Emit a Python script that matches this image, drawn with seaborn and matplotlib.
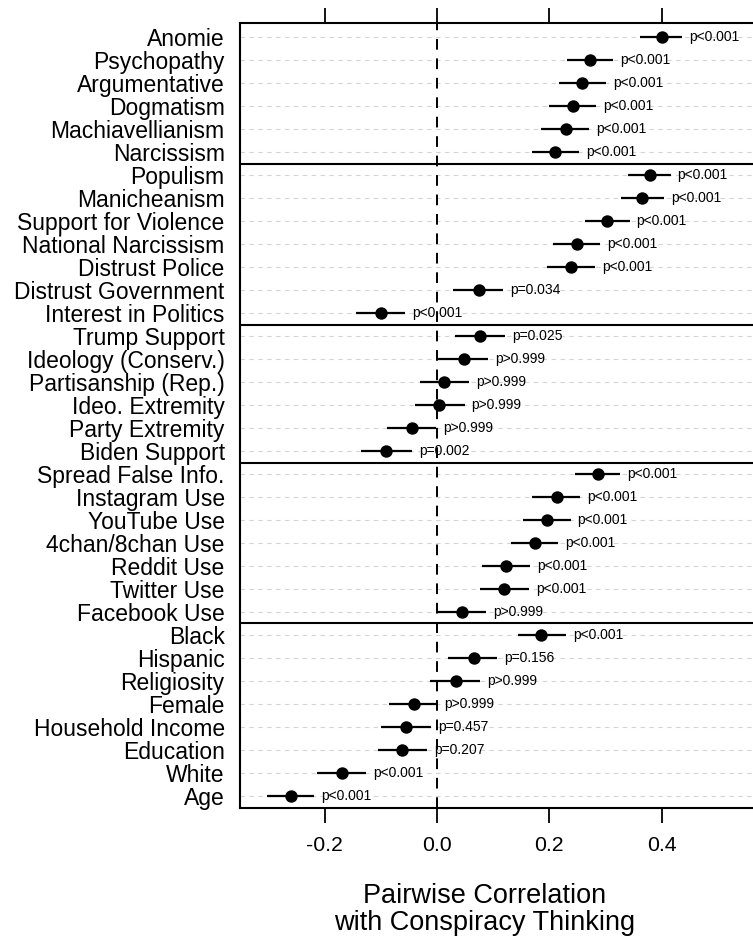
import numpy as np
import pandas as pd
import seaborn as sns
import matplotlib
matplotlib.use("Agg")
import matplotlib.pyplot as plt

labels = [
    "Anomie", "Psychopathy", "Argumentative", "Dogmatism", "Machiavellianism", "Narcissism",
    "Populism", "Manicheanism", "Support for Violence", "National Narcissism",
    "Distrust Police", "Distrust Government", "Interest in Politics",
    "Trump Support", "Ideology (Conserv.)", "Partisanship (Rep.)", "Ideo. Extremity",
    "Party Extremity", "Biden Support",
    "Spread False Info.", "Instagram Use", "YouTube Use", "4chan/8chan Use",
    "Reddit Use", "Twitter Use", "Facebook Use",
    "Black", "Hispanic", "Religiosity", "Female", "Household Income", "Education",
    "White", "Age",
]
group_sizes = [6, 7, 6, 7, 8]

corr = [
    0.400, 0.272, 0.259, 0.243, 0.230, 0.211,
    0.379, 0.366, 0.303, 0.250, 0.238, 0.074, -0.100,
    0.077, 0.048, 0.013, 0.004, -0.045, -0.091,
    0.286, 0.213, 0.196, 0.175, 0.123, 0.120, 0.045,
    0.186, 0.065, 0.033, -0.041, -0.055, -0.062, -0.170, -0.261,
]
ci_low = [
    0.362, 0.231, 0.218, 0.200, 0.186, 0.169,
    0.341, 0.327, 0.264, 0.207, 0.196, 0.029, -0.144,
    0.032, 0.001, -0.031, -0.040, -0.090, -0.135,
    0.246, 0.170, 0.153, 0.131, 0.080, 0.077, 0.001,
    0.144, 0.019, -0.012, -0.085, -0.100, -0.106, -0.214, -0.302,
]
ci_high = [
    0.437, 0.314, 0.301, 0.284, 0.271, 0.253,
    0.416, 0.404, 0.343, 0.290, 0.281, 0.117, -0.057,
    0.121, 0.091, 0.057, 0.049, -0.001, -0.045,
    0.326, 0.255, 0.238, 0.216, 0.166, 0.164, 0.088,
    0.230, 0.107, 0.077, 0.000, -0.010, -0.017, -0.126, -0.219,
]
p_labels = [
    "p<0.001", "p<0.001", "p<0.001", "p<0.001", "p<0.001", "p<0.001",
    "p<0.001", "p<0.001", "p<0.001", "p<0.001", "p<0.001", "p=0.034", "p<0.001",
    "p=0.025", "p>0.999", "p>0.999", "p>0.999", "p>0.999", "p=0.002",
    "p<0.001", "p<0.001", "p<0.001", "p<0.001", "p<0.001", "p<0.001", "p>0.999",
    "p<0.001", "p=0.156", "p>0.999", "p>0.999", "p=0.457", "p=0.207", "p<0.001", "p<0.001",
]
x_ticks = [-0.2, 0.0, 0.2, 0.4]

df = pd.DataFrame({
    "label": labels,
    "r": corr,
    "lo": ci_low,
    "hi": ci_high,
    "p": p_labels,
})
df["row"] = np.arange(len(df))

sns.set_style("ticks")
plt.rcParams["font.family"] = ["Liberation Sans", "DejaVu Sans"]
plt.rcParams.update({
    "text.color": "black",
    "axes.labelcolor": "black",
    "xtick.color": "black",
    "ytick.color": "black",
})

fig = plt.figure(figsize=(7.53, 9.42), dpi=100)
ax = fig.add_axes([0.3187, 0.1423, 0.709, 0.8333])

# light dashed guide per row
for row in df["row"]:
    ax.axhline(row, color="#d4d4d4", lw=0.8, ls=(0, (4, 4)), zorder=0)

ax.axvline(0, color="black", lw=1.4, ls=(0, (5.5, 4.5)), zorder=1)

ax.hlines(df["row"], df["lo"], df["hi"], color="black", lw=1.6, zorder=2)
sns.scatterplot(data=df, x="r", y="row", color="black", s=80,
                edgecolor="black", linewidth=0, zorder=3, ax=ax, legend=False)

for _, d in df.iterrows():
    ax.text(d["hi"] + 0.0125, d["row"], d["p"], fontsize=10,
            ha="left", va="center", zorder=4)

# group separators
bounds = np.cumsum(group_sizes)[:-1]
for b in bounds:
    ax.axhline(b - 0.5, color="black", lw=1.5, zorder=2)

ax.set_xlim(-0.351, 0.6)
ax.set_ylim(33.52, -0.61)
ax.set_yticks(df["row"])
ax.set_yticklabels(df["label"], fontsize=16.5)
ax.tick_params(axis="y", length=0, pad=11)
ax.set_xticks(x_ticks)
ax.set_xticklabels([f"{t:.1f}" for t in x_ticks], fontsize=15.3)
ax.tick_params(axis="x", which="both", top=True, bottom=True, length=10.5,
               width=1.3, direction="out", pad=10)
ax.set_ylabel("")
ax.set_xlabel("Pairwise Correlation\nwith Conspiracy Thinking", fontsize=19.5,
              linespacing=1.05)
ax.xaxis.set_label_coords(0.459, -0.095)

for side in ["left", "top", "bottom", "right"]:
    ax.spines[side].set_linewidth(1.5)
    ax.spines[side].set_color("black")

fig.savefig("out.png", dpi=100)
